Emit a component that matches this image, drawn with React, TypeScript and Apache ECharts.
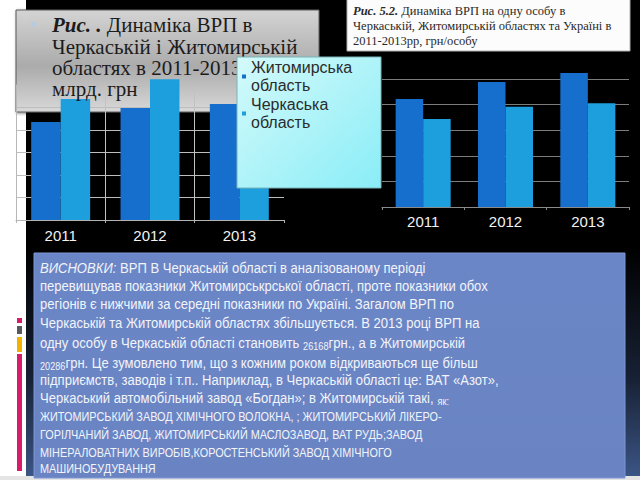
import React, { useEffect, useRef } from 'react';
import * as echarts from 'echarts';

// ---- data ----
const years = ['2011', '2012', '2013'];
// left chart: ВРП, млрд. грн
const grpZhytomyr = [21.8, 24.9, 25.8];
const grpCherkasy = [26.9, 31.3, 32.5];
// right chart: ВРП на одну особу, грн/особу
const perCapitaDark = [21100, 24400, 26168];
const perCapitaLight = [17200, 19600, 20286];

const legendNames = ['Житомирська\nобласть', 'Черкаська\nобласть'];

const leftTitleLines = [
  '{b|Рис. .} Динаміка ВРП в',
  'Черкаській і Житомирській',
  'областях в 2011-2013',
  'млрд. грн',
];
const rightTitleLines = [
  '{b|Рис. 5.2.} Динаміка ВРП на одну особу в',
  'Черкаській, Житомирській областях та Україні в',
  '2011-2013рр, грн/особу',
];
const conclusionLines = [
  '{i|ВИСНОВКИ:} ВРП В Черкаській області в аналізованому періоді',
  'перевищував показники Житомирськрської області, проте показники обох',
  'регіонів є нижчими за середні показники по Україні. Загалом ВРП по',
  'Черкаській та Житомирській областях збільшується. В 2013 році ВРП на',
  'одну особу в Черкаській області становить {s|26168}грн., а в Житомирській',
  '{s|20286}грн. Це зумовлено тим, що з кожним роком відкриваються ще більш',
  'підприємств, заводів і т.п.. Наприклад, в Черкаській області це: ВАТ «Азот»,',
  'Черкаський автомобільний завод «Богдан»; в Житомирській такі, {s|як:}',
];
const conclusionCaps = [
  'ЖИТОМИРСЬКИЙ ЗАВОД ХІМІЧНОГО ВОЛОКНА, ; ЖИТОМИРСЬКИЙ ЛІКЕРО-',
  'ГОРІЛЧАНИЙ ЗАВОД, ЖИТОМИРСЬКИЙ МАСЛОЗАВОД, ВАТ РУДЬ;ЗАВОД',
  'МІНЕРАЛОВАТНИХ ВИРОБІВ,КОРОСТЕНСЬКИЙ ЗАВОД ХІМІЧНОГО',
  'МАШИНОБУДУВАННЯ',
];

const DARK = '#176fcd';
const LIGHT = '#1d9fdd';
const SANS = 'Liberation Sans';
const SERIF = 'Liberation Serif';

// wrap plain segments of a line in an {r|...} rich token
function wrapPlain(line: string): string {
  return line
    .split(/(\{[a-z]+\|[^}]*\})/)
    .filter((p) => p.length > 0)
    .map((p) => (/^\{[a-z]+\|/.test(p) ? p : '{r|' + p + '}'))
    .join('');
}

function tok(family: string, size: number, lh: number, color: string, weight = 'normal', fstyle = 'normal', extra: any = {}) {
  return { fontFamily: family, fontSize: size, fontWeight: weight, fontStyle: fstyle, fill: color, lineHeight: lh, ...extra };
}

export default function App() {
  const ref = useRef<HTMLDivElement>(null);

  useEffect(() => {
    if (!ref.current) return;
    const chart = echarts.init(ref.current, null, { renderer: 'svg' });
    const LG = echarts.graphic.LinearGradient;

    const graphics: any[] = [
      // slide background
      {
        type: 'rect', z: -10, shape: { x: 26, y: 0, width: 614, height: 476 },
        style: {
          fill: new LG(0, 0, 0, 1, [
            { offset: 0, color: '#000000' },
            { offset: 0.52, color: '#000000' },
            { offset: 0.8, color: '#182236' },
            { offset: 1, color: '#3b5585' },
          ]),
        },
      },
      { type: 'rect', z: -10, shape: { x: 0, y: 476, width: 640, height: 4 }, style: { fill: '#e4e4e4' } },
      // left decorative strip
      { type: 'rect', z: -9, shape: { x: 17, y: 318, width: 5, height: 5 }, style: { fill: '#d81b6a' } },
      { type: 'rect', z: -9, shape: { x: 17, y: 326, width: 5, height: 8 }, style: { fill: '#555a60' } },
      { type: 'rect', z: -9, shape: { x: 17, y: 337, width: 5, height: 15 }, style: { fill: '#f2b200' } },
      { type: 'rect', z: -9, shape: { x: 17, y: 354, width: 5, height: 117 }, style: { fill: '#d81b6a' } },
      // left title box
      {
        type: 'rect', z: -8, shape: { x: 16, y: 10, width: 303, height: 102 },
        style: {
          fill: new LG(0, 0, 0, 1, [
            { offset: 0, color: '#d4d4d4' },
            { offset: 0.55, color: '#ababab' },
            { offset: 1, color: '#d8d8d8' },
          ]),
          stroke: '#5a5a5a', lineWidth: 1,
          shadowBlur: 3, shadowColor: 'rgba(0,0,0,0.5)', shadowOffsetX: 1, shadowOffsetY: 1,
        },
      },
      { type: 'rect', z: 5, shape: { x: 31, y: 22, width: 5, height: 5 }, style: { fill: '#b6cbe0' } },
      // right title box
      {
        type: 'rect', z: -8, shape: { x: 347, y: -1, width: 283, height: 52 },
        style: { fill: '#fcfcfc', stroke: '#b0b0b0', lineWidth: 1 },
      },
      // conclusions box
      {
        type: 'rect', z: -8, shape: { x: 34, y: 253, width: 591, height: 225 },
        style: {
          fill: new LG(0, 0, 0, 1, [
            { offset: 0, color: '#6b86c6' },
            { offset: 1, color: '#6a84c3' },
          ]),
          stroke: '#7d97d4', lineWidth: 1,
        },
      },
      // legend box
      {
        type: 'rect', z: 6, shape: { x: 237, y: 57, width: 144, height: 131 },
        style: {
          fill: new LG(0, 0, 1, 1, [
            { offset: 0, color: '#d4fafa' },
            { offset: 1, color: '#8aedf7' },
          ]),
          stroke: '#79b4b8', lineWidth: 1,
        },
      },
    ];

    // left title (line centres 25, 47, 68, 89)
    const leftTitleY = [25, 47, 68, 89];
    leftTitleLines.forEach((t, i) => {
      graphics.push({
        type: 'text', z: 5, x: 52, y: leftTitleY[i] - 10.5,
        style: {
          text: wrapPlain(t),
          rich: {
            r: tok(SERIF, 21, 21, '#1c1c1c'),
            b: tok(SERIF, 21, 21, '#1c1c1c', 'bold', 'italic'),
          },
        },
      });
    });
    // right title (line centres 11, 26, 41)
    const rightTitleY = [11, 26, 41];
    rightTitleLines.forEach((t, i) => {
      graphics.push({
        type: 'text', z: 5, x: 353, y: rightTitleY[i] - 7,
        style: {
          text: wrapPlain(t),
          rich: {
            r: tok(SERIF, 12.5, 14, '#2a2a2a'),
            b: tok(SERIF, 12.5, 14, '#2a2a2a', 'bold', 'italic'),
          },
        },
      });
    });
    // conclusions
    const conclY = [268, 286, 304, 323, 343, 363, 380, 398];
    conclusionLines.forEach((t, i) => {
      graphics.push({
        type: 'text', z: 5, x: 40, y: conclY[i] - 9, scaleX: 0.87,
        style: {
          text: wrapPlain(t),
          rich: {
            r: tok(SANS, 15, 18, '#f2f4fa'),
            i: tok(SANS, 15, 18, '#f2f4fa', 'normal', 'italic'),
            s: tok(SANS, 10.5, 18, '#f2f4fa', 'normal', 'normal', { verticalAlign: 'bottom' }),
          },
        },
      });
    });
    const capsY = [416, 434, 452, 468];
    conclusionCaps.forEach((t, i) => {
      graphics.push({
        type: 'text', z: 5, x: 40, y: capsY[i] - 8, scaleX: 0.87,
        style: {
          text: wrapPlain(t),
          rich: { r: tok(SANS, 12.5, 16, '#f2f4fa') },
        },
      });
    });

    const xLabel = { color: '#f2f2f2', fontSize: 15, fontFamily: SANS };

    chart.setOption({
      animation: false,
      backgroundColor: '#ffffff',
      grid: [
        { left: 16, top: 85, width: 268, height: 135 },
        { left: 382, top: 53.4, width: 247, height: 153.6 },
      ],
      legend: {
        data: legendNames,
        orient: 'vertical',
        left: 237,
        top: 53,
        itemWidth: 4,
        itemHeight: 4,
        itemGap: 0,
        icon: 'rect',
        z: 8,
        textStyle: { fontFamily: SANS, fontSize: 16, color: '#2b2b2b', lineHeight: 18.5 },
      },
      xAxis: [
        {
          type: 'category', gridIndex: 0, data: years,
          axisLine: { lineStyle: { color: '#b4b4b4' } },
          axisTick: { show: true, length: 3, lineStyle: { color: '#b4b4b4' } },
          axisLabel: { ...xLabel, margin: 8 },
          splitLine: { show: true, showMaxLine: false, lineStyle: { color: '#c2c2c2' } },
        },
        {
          type: 'category', gridIndex: 1, data: years,
          axisLine: { lineStyle: { color: '#8a8a8a' } },
          axisTick: { show: true, length: 3, lineStyle: { color: '#8a8a8a' } },
          axisLabel: { ...xLabel, margin: 7 },
          splitLine: { show: false },
        },
      ],
      yAxis: [
        {
          type: 'value', gridIndex: 0, min: 0, max: 30, interval: 5,
          axisLabel: { show: false }, axisTick: { show: false },
          axisLine: { show: true, lineStyle: { color: '#b8b8b8' } },
          splitLine: { lineStyle: { color: '#bdbdbd' } },
        },
        {
          type: 'value', gridIndex: 1, min: 0, max: 30000, interval: 5000,
          axisLabel: { show: false }, axisTick: { show: false }, axisLine: { show: false },
          splitLine: { showMaxLine: false, lineStyle: { color: '#7c7c7c' } },
        },
      ],
      series: [
        {
          type: 'bar', name: legendNames[0], xAxisIndex: 0, yAxisIndex: 0, data: grpZhytomyr,
          barWidth: '33%', barGap: '0%', clip: false, itemStyle: { color: DARK },
        },
        {
          type: 'bar', name: legendNames[1], xAxisIndex: 0, yAxisIndex: 0, data: grpCherkasy,
          barWidth: '33%', barGap: '0%', clip: false, itemStyle: { color: LIGHT },
        },
        {
          type: 'bar', name: 'ВРП на особу (темні)', xAxisIndex: 1, yAxisIndex: 1, data: perCapitaDark,
          barWidth: '33.4%', barGap: '0%', itemStyle: { color: DARK },
        },
        {
          type: 'bar', name: 'ВРП на особу (світлі)', xAxisIndex: 1, yAxisIndex: 1, data: perCapitaLight,
          barWidth: '33.4%', barGap: '0%', itemStyle: { color: LIGHT },
        },
      ],
      graphic: { elements: graphics },
    });

    return () => chart.dispose();
  }, []);

  return <div ref={ref} style={{ position: 'fixed', left: 0, top: 0, width: 640, height: 480 }} />;
}
